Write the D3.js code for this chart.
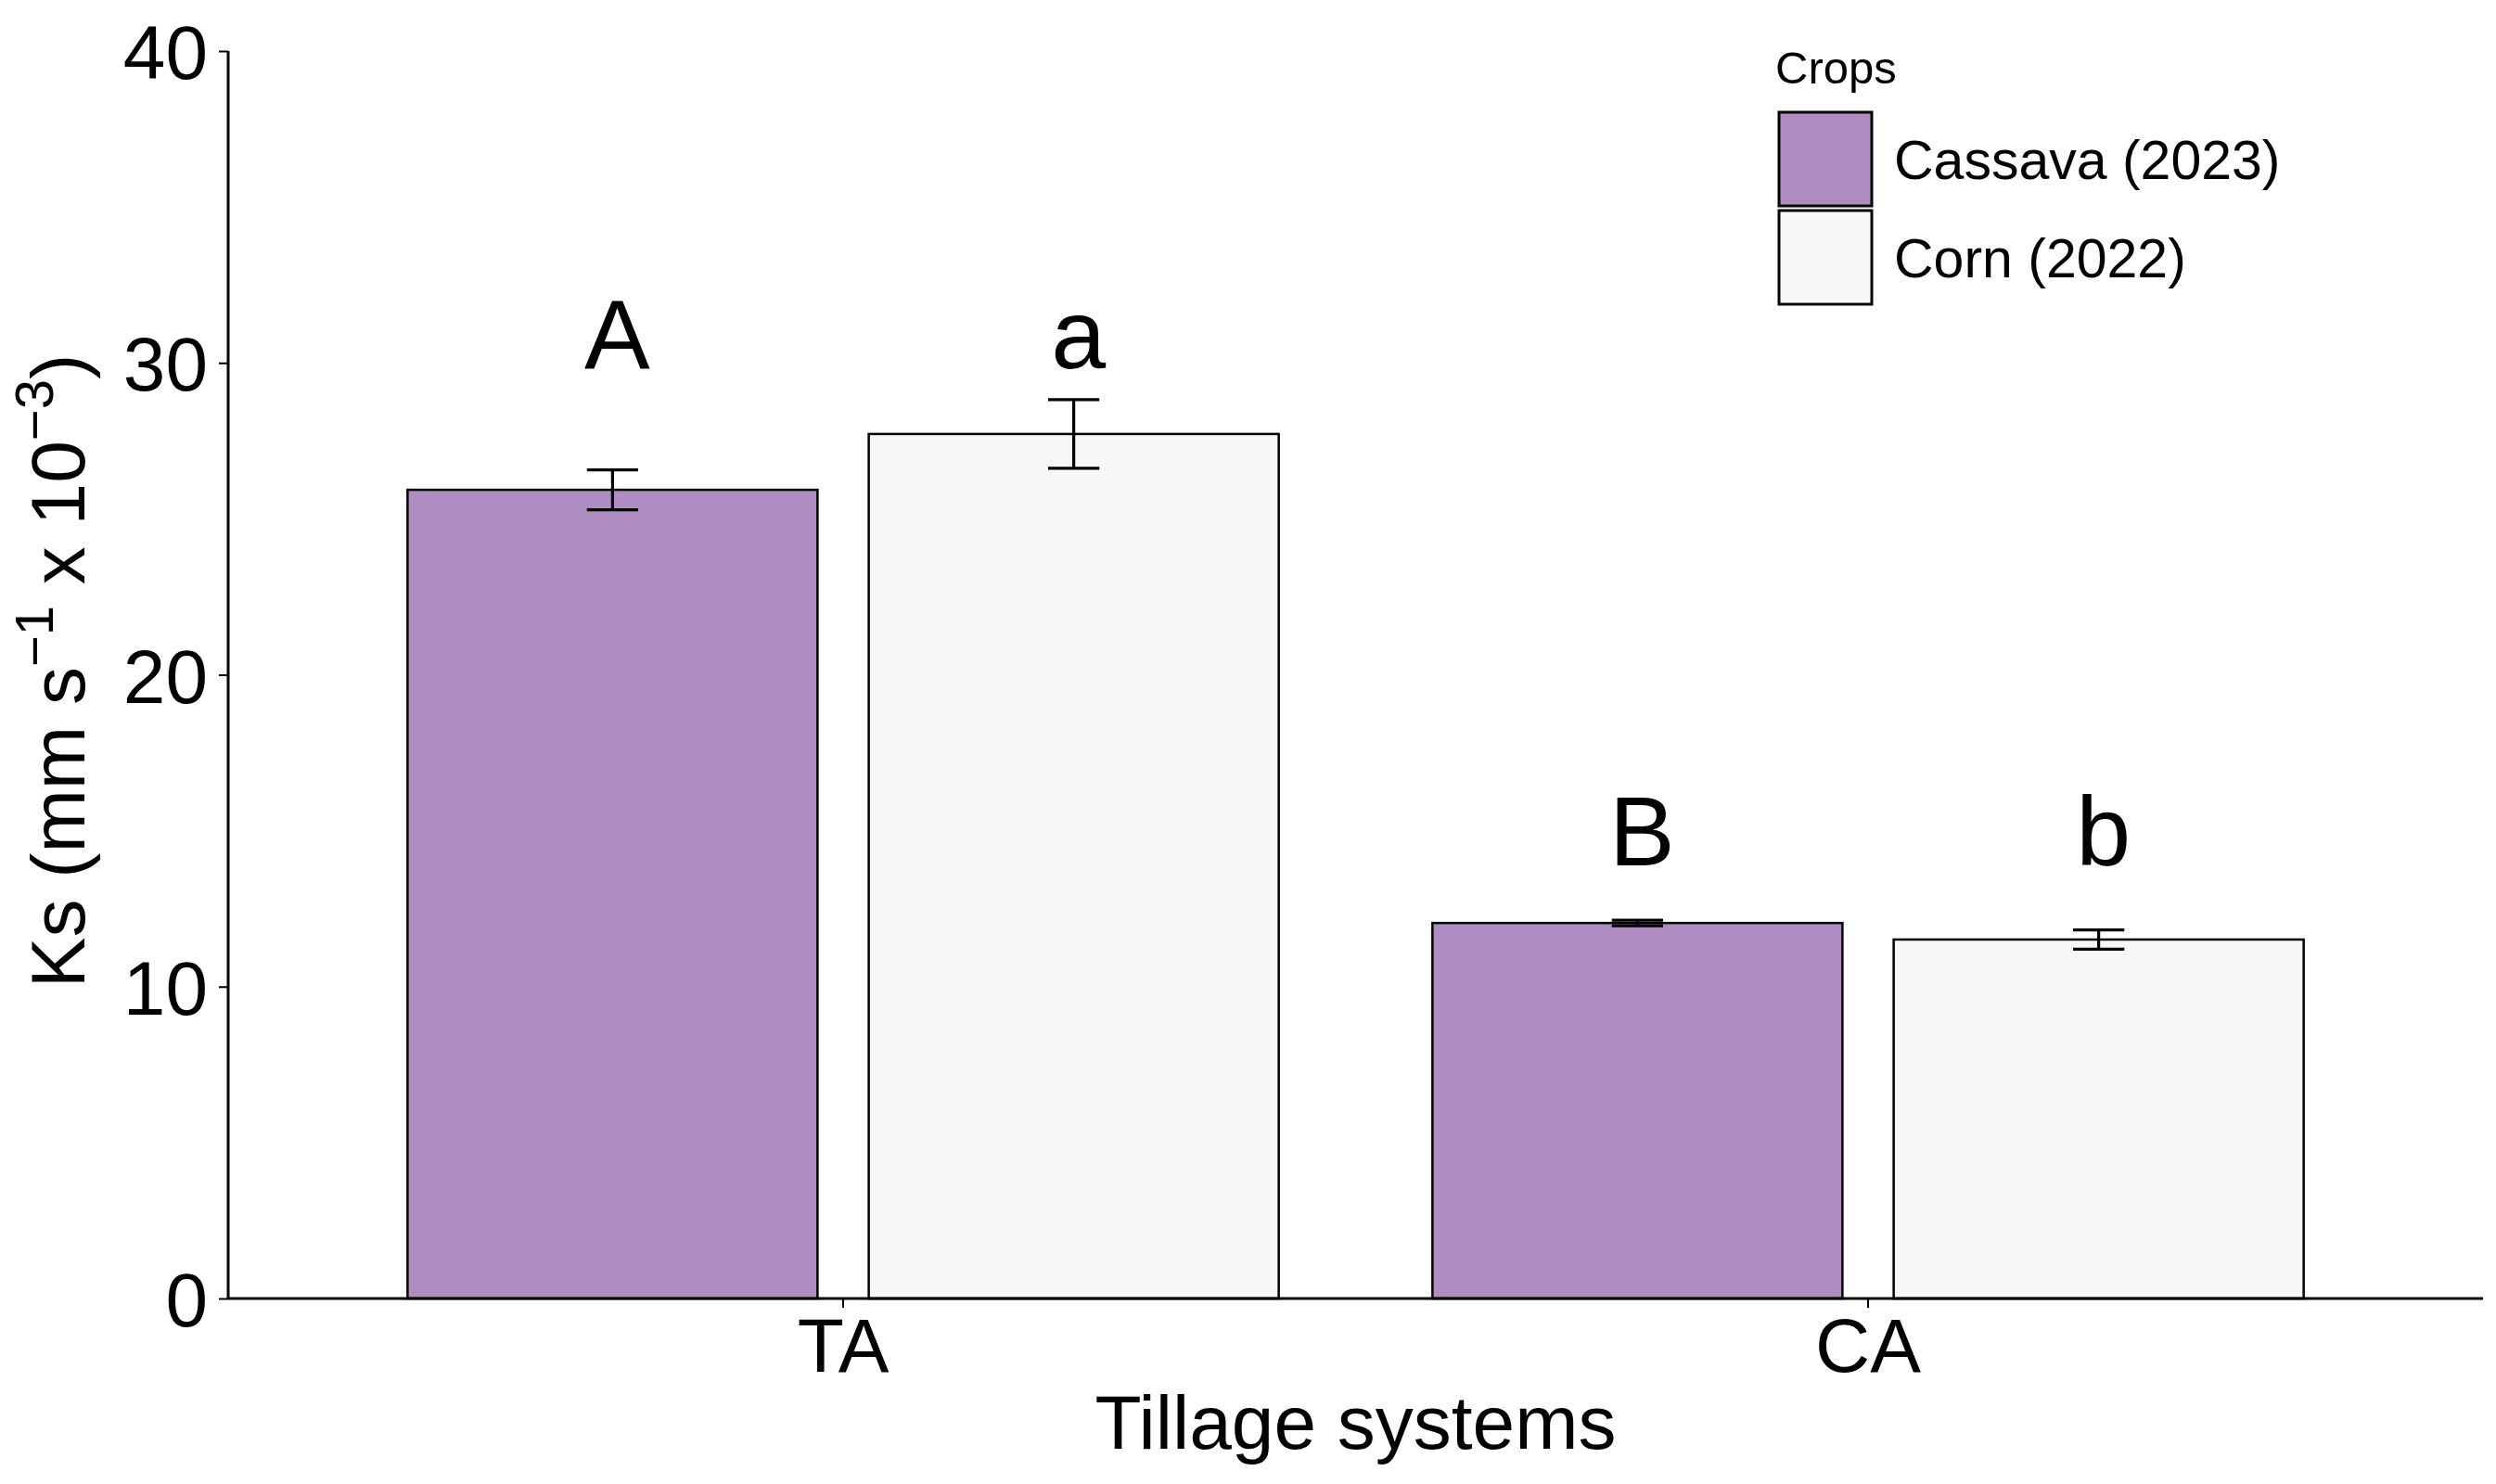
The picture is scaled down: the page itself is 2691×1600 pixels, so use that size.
<!DOCTYPE html>
<html>
<head>
<meta charset="utf-8">
<script src="https://cdn.jsdelivr.net/npm/d3@7"></script>
<style>
  html, body { margin: 0; padding: 0; background: #ffffff; }
  svg { display: block; font-family: "Liberation Sans", Arial, sans-serif; }
</style>
</head>
<body>
<svg id="chart" width="2691" height="1600"></svg>
<script>
// ---- data ----
const systems = ["TA", "CA"];
const crops = ["Cassava (2023)", "Corn (2022)"];
const cassavaMeans = [25.93, 12.04];
const cassavaSE = [0.64, 0.09];
const cornMeans = [27.72, 11.51];
const cornSE = [1.10, 0.31];
const cassavaLetters = ["A", "B"];
const cornLetters = ["a", "b"];
const letterLevels = [29.83, 13.89];
const yTicks = [0, 10, 20, 30, 40];
const cropColors = ["#af8dc3", "#f7f7f7"];

const rows = [];
systems.forEach((s, i) => {
  rows.push({system: s, crop: crops[0], mean: cassavaMeans[i], se: cassavaSE[i], letter: cassavaLetters[i], ly: letterLevels[i]});
  rows.push({system: s, crop: crops[1], mean: cornMeans[i], se: cornSE[i], letter: cornLetters[i], ly: letterLevels[i]});
});

// ---- layout ----
const plotL = 246, plotR = 2677, plotT = 55, plotB = 1400;
const svg = d3.select("#chart");

const x0 = d3.scaleBand().domain(systems).range([plotL, plotR]).paddingInner(0.1).paddingOuter(0.15);
const x1 = d3.scaleBand().domain(crops).range([0, x0.bandwidth()]).paddingInner(1/9).paddingOuter(1/18);
const y = d3.scaleLinear().domain([0, 40]).range([plotB, plotT]);
const color = d3.scaleOrdinal().domain(crops).range(cropColors);
const unit = x0.step();

// bars
const g = svg.append("g");
g.selectAll("rect.bar").data(rows).join("rect")
  .attr("class", "bar")
  .attr("x", d => x0(d.system) + x1(d.crop))
  .attr("y", d => y(d.mean))
  .attr("width", x1.bandwidth())
  .attr("height", d => y(0) - y(d.mean))
  .attr("fill", d => color(d.crop))
  .attr("stroke", "#000")
  .attr("stroke-width", 2.5);

// error bars
const cx = d => x0(d.system) + x1(d.crop) + x1.bandwidth() / 2;
const capW = unit * 0.05;
const eb = g.selectAll("g.eb").data(rows).join("g").attr("class", "eb")
  .attr("stroke", "#000").attr("stroke-width", 3.2);
eb.append("line").attr("x1", cx).attr("x2", cx).attr("y1", d => y(d.mean + d.se)).attr("y2", d => y(d.mean - d.se));
eb.append("line").attr("x1", d => cx(d) - capW / 2).attr("x2", d => cx(d) + capW / 2).attr("y1", d => y(d.mean + d.se)).attr("y2", d => y(d.mean + d.se));
eb.append("line").attr("x1", d => cx(d) - capW / 2).attr("x2", d => cx(d) + capW / 2).attr("y1", d => y(d.mean - d.se)).attr("y2", d => y(d.mean - d.se));

// letters
g.selectAll("text.letter").data(rows).join("text")
  .attr("class", "letter")
  .attr("x", d => cx(d) + 5)
  .attr("y", d => y(d.ly))
  .attr("text-anchor", "middle")
  .attr("font-size", 106)
  .attr("fill", "#000")
  .text(d => d.letter);

// axes
const yAxis = svg.append("g").attr("transform", `translate(${plotL},0)`)
  .call(d3.axisLeft(y).tickValues(yTicks).tickSize(10).tickPadding(12).tickFormat(d3.format("d")));
yAxis.select(".domain").attr("stroke-width", 3).attr("d", `M0,${plotT}V${plotB}`);
yAxis.selectAll(".tick line").attr("stroke-width", 2);
yAxis.selectAll(".tick text").attr("font-size", 82).attr("font-family", "Liberation Sans, Arial, sans-serif").attr("fill", "#000").attr("dy", "0.36em");

const xAxis = svg.append("g").attr("transform", `translate(0,${plotB})`)
  .call(d3.axisBottom(x0).tickSize(10).tickPadding(10));
xAxis.select(".domain").attr("stroke-width", 3).attr("d", `M${plotL},0H${plotR}`);
xAxis.selectAll(".tick line").attr("stroke-width", 2);
xAxis.selectAll(".tick text").attr("font-size", 82).attr("font-family", "Liberation Sans, Arial, sans-serif").attr("fill", "#000").attr("dy", "0.72em");

// axis titles
svg.append("text")
  .attr("x", (plotL + plotR) / 2)
  .attr("y", 1562)
  .attr("text-anchor", "middle")
  .attr("font-size", 82)
  .attr("fill", "#000")
  .text("Tillage systems");

const yt = svg.append("text")
  .attr("transform", `translate(91,${(plotT + plotB) / 2 - 4}) rotate(-90)`)
  .attr("text-anchor", "middle")
  .attr("font-size", 82)
  .attr("fill", "#000");
yt.append("tspan").text("Ks (mm s");
yt.append("tspan").attr("font-size", 58).attr("dy", -34).text("\u22121");
yt.append("tspan").attr("dy", 34).text(" x 10");
yt.append("tspan").attr("font-size", 58).attr("dy", -34).text("\u22123");
yt.append("tspan").attr("dy", 34).text(")");

// legend
const lg = svg.append("g");
lg.append("text").attr("x", 1914).attr("y", 90).attr("font-size", 49).attr("fill", "#000").text("Crops");
const items = lg.selectAll("g.item").data(crops).join("g").attr("class", "item")
  .attr("transform", (d, i) => `translate(1918,${121 + i * 106})`);
items.append("rect").attr("width", 100).attr("height", 101)
  .attr("fill", d => color(d)).attr("stroke", "#000").attr("stroke-width", 3);
items.append("text").attr("x", 124).attr("y", 50.5).attr("dy", "0.36em")
  .attr("font-size", 59).attr("fill", "#000").text(d => d);
</script>
</body>
</html>
